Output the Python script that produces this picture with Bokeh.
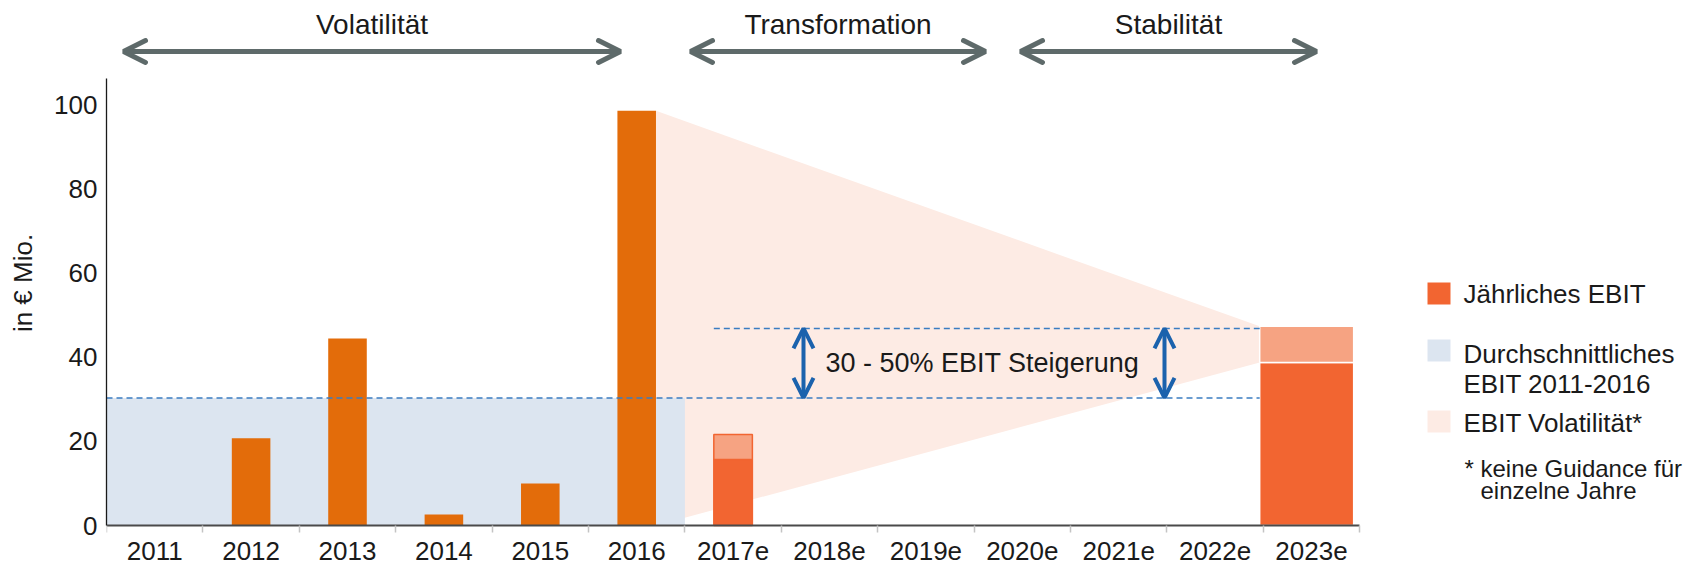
from bokeh.plotting import figure
from bokeh.models import Range1d, FixedTicker, Arrow, OpenHead
from bokeh.core.properties import value
from bokeh.embed import file_html
from bokeh.resources import INLINE

# ---------------- data ----------------
categories = ["2011", "2012", "2013", "2014", "2015", "2016", "2017e",
              "2018e", "2019e", "2020e", "2021e", "2022e", "2023e"]
actual_years = ["2011", "2012", "2013", "2014", "2015", "2016"]
actual_ebit = [0.0, 20.7, 44.4, 2.6, 10.0, 98.5]
forecast_years = ["2017e", "2023e"]
forecast_low = [15.7, 38.7]
forecast_high = [21.6, 47.3]
avg_ebit = 30.3
target_ebit = 46.8
y_ticks = [0, 20, 40, 60, 80, 100]
phases = ["Volatilität", "Transformation", "Stabilität"]
legend_labels = ["Jährliches EBIT", "Durchschnittliches\nEBIT 2011-2016", "EBIT Volatilität*"]
note_lines = ["* keine Guidance für", "einzelne Jahre"]
growth_label = "30 - 50% EBIT Steigerung"

# ---------------- layout ----------------
FONT = value("Liberation Sans")
TXT = "#1a1a1a"
C_ACT = "#E36C0A"
C_LOW = "#F26531"
C_HIGH = "#F6A382"
C_VOL = "#FDEBE4"
C_AVG = "#DCE5F0"
C_DASH = "#3A7CC1"
C_BLUE = "#1B62AD"
C_GRAY = "#5E6A6A"

W, H = 1694, 565
LEFT = 106          # pixel column of the y axis
BASE = 525          # pixel row of y = 0
PX_X = 96.4
PX_Y = 4.21
x_end = (W - LEFT) / PX_X
y_end = BASE / PX_Y
y_start = -(H - BASE) / PX_Y

def dx(px):  # pixel -> data x
    return (px - LEFT) / PX_X

def dy(py):  # pixel -> data y
    return (BASE - py) / PX_Y

idx = {c: i for i, c in enumerate(categories)}
def center(c):
    return idx[c] + 0.5

bar_w = 0.4
fc_width = [0.4, 0.975]
fc_shift = [0.0, -0.05]
fc_line = [C_LOW, "white"]

p = figure(width=W, height=H, x_range=Range1d(0, x_end), y_range=Range1d(y_start, y_end),
           output_backend="svg", toolbar_location=None,
           min_border_left=LEFT, min_border_right=0, min_border_top=0,
           min_border_bottom=0)
p.outline_line_color = None
p.xgrid.visible = False
p.ygrid.visible = False
p.background_fill_color = "white"

# volatility wedge
x2016_right = center("2016") + bar_w / 2
x2023_left = center("2023e") + fc_shift[1] - fc_width[1] / 2
p.patch(x=[x2016_right, x2023_left, x2023_left, x2016_right],
        y=[actual_ebit[-1], forecast_high[1], forecast_low[1], 0],
        fill_color=C_VOL, line_color=None)

# average area 2011-2016
p.quad(left=[idx["2011"]], right=[idx["2016"] + 1], bottom=[0], top=[avg_ebit],
       fill_color=C_AVG, line_color=None)

# actual bars
xs = [center(c) for c, v in zip(actual_years, actual_ebit) if v > 0]
tops = [v for v in actual_ebit if v > 0]
p.vbar(x=xs, top=tops, width=bar_w, fill_color=C_ACT, line_color=None)

# forecast bars
fx = [center(c) + s for c, s in zip(forecast_years, fc_shift)]
p.vbar(x=fx, bottom=0, top=forecast_low, width=fc_width, fill_color=C_LOW,
       line_color=fc_line, line_width=1.5)
p.vbar(x=fx, bottom=forecast_low, top=forecast_high, width=fc_width, fill_color=C_HIGH,
       line_color=fc_line, line_width=1.5)

# dashed reference lines
x2017_left = center("2017e") - fc_width[0] / 2
p.line(x=[0, x2023_left], y=[avg_ebit, avg_ebit], line_color=C_DASH, line_width=1.5,
       line_dash="6 4")
p.line(x=[x2017_left, x2023_left], y=[target_ebit, target_ebit], line_color=C_DASH,
       line_width=1.5, line_dash="6 4")

# growth double arrows
for ax in [dx(803), dx(1164)]:
    p.add_layout(Arrow(x_start=ax, y_start=avg_ebit, x_end=ax, y_end=target_ebit,
                       line_color=C_BLUE, line_width=4,
                       start=OpenHead(size=20, line_width=4, line_color=C_BLUE),
                       end=OpenHead(size=20, line_width=4, line_color=C_BLUE)))
p.text(x=[dx(825)], y=[(avg_ebit + target_ebit) / 2], text=[growth_label],
       text_font=FONT, text_font_size="27px", text_color=TXT,
       text_align="left", text_baseline="middle")

# phase arrows on top
phase_start = [dx(123), dx(690), dx(1020)]
phase_end = [dx(620), dx(985), dx(1316)]
arrow_y = dy(51)
for s, e in zip(phase_start, phase_end):
    p.add_layout(Arrow(x_start=s, y_start=arrow_y, x_end=e, y_end=arrow_y,
                       line_color=C_GRAY, line_width=5,
                       start=OpenHead(size=22, line_width=5, line_color=C_GRAY, line_cap="round"),
                       end=OpenHead(size=22, line_width=5, line_color=C_GRAY, line_cap="round")))
p.text(x=[(s + e) / 2 for s, e in zip(phase_start, phase_end)], y=[dy(24)] * 3, text=phases,
       text_font=FONT, text_font_size="28px", text_color=TXT,
       text_align="center", text_baseline="middle")

# legend
sw_x = dx(1438.5)
sw_y = [dy(293), dy(350), dy(421)]
p.rect(x=[sw_x] * 3, y=sw_y, width=23, height=22, width_units="screen",
       height_units="screen", fill_color=[C_LOW, C_AVG, C_VOL], line_color=None)
p.text(x=[dx(1463)] * 4, y=[dy(293), dy(353), dy(383), dy(422)],
       text=[legend_labels[0]] + legend_labels[1].split("\n") + [legend_labels[2]],
       text_font=FONT, text_font_size="26px", text_color=TXT,
       text_align="left", text_baseline="middle")
p.text(x=[dx(1464), dx(1480)], y=[dy(468), dy(490)], text=note_lines,
       text_font=FONT, text_font_size="24px", text_color=TXT,
       text_align="left", text_baseline="middle")

# axes
xa = p.xaxis[0]
xa.fixed_location = 0
xa.bounds = (0, len(categories))
xa.ticker = FixedTicker(ticks=[i + 0.5 for i in range(len(categories))],
                        minor_ticks=list(range(len(categories) + 1)))
xa.major_label_overrides = {i + 0.5: c for i, c in enumerate(categories)}
xa.major_tick_line_color = None
xa.major_tick_out = 0
xa.major_tick_in = 0
xa.minor_tick_line_color = "#C4C4C4"
xa.minor_tick_line_width = 1.5
xa.minor_tick_out = 7
xa.minor_tick_in = 0
xa.axis_line_color = "#4a4a4a"
xa.axis_line_width = 2
xa.major_label_standoff = 9
xa.major_label_text_font = "Liberation Sans"
xa.major_label_text_font_size = "26px"
xa.major_label_text_color = TXT

ya = p.yaxis[0]
ya.bounds = (0, dy(78))
ya.ticker = FixedTicker(ticks=y_ticks, minor_ticks=[])
ya.major_tick_line_color = None
ya.major_tick_out = 0
ya.major_tick_in = 0
ya.minor_tick_line_color = None
ya.axis_line_color = "#1a1a1a"
ya.axis_line_width = 1.3
ya.major_label_standoff = 9
ya.major_label_text_font = "Liberation Sans"
ya.major_label_text_font_size = "26px"
ya.major_label_text_color = TXT
ya.axis_label = "in € Mio."
ya.axis_label_text_font = "Liberation Sans"
ya.axis_label_text_font_size = "26px"
ya.axis_label_text_font_style = "normal"
ya.axis_label_text_color = TXT
ya.axis_label_standoff = 13

open("out.html", "w").write(file_html(p, INLINE))
